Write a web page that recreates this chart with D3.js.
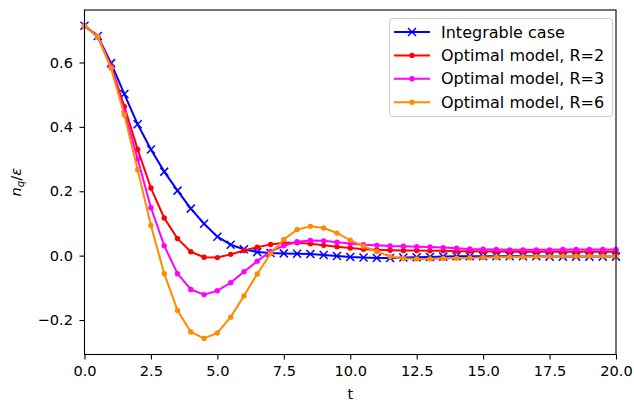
<!DOCTYPE html>
<html>
<head>
<meta charset="utf-8">
<script src="https://cdn.jsdelivr.net/npm/d3@7"></script>
<style>
  body { margin: 0; background: #fff; }
  text { font-family: "DejaVu Sans", sans-serif; }
</style>
</head>
<body>
<svg id="chart" width="634" height="401"></svg>
<script>
// time grid, t = 0 .. 20 step 0.5
var tValues = [0, 0.5, 1, 1.5, 2, 2.5, 3, 3.5, 4, 4.5, 5, 5.5, 6, 6.5, 7, 7.5, 8, 8.5, 9, 9.5,
               10, 10.5, 11, 11.5, 12, 12.5, 13, 13.5, 14, 14.5, 15, 15.5, 16, 16.5, 17, 17.5, 18, 18.5, 19, 19.5, 20];

var integrable = [0.714, 0.682, 0.598, 0.502, 0.408, 0.330, 0.261, 0.202, 0.146, 0.099,
                  0.059, 0.034, 0.020, 0.011, 0.008, 0.007, 0.006, 0.005, 0.002, -0.001,
                  -0.004, -0.006, -0.007, -0.007, -0.006, -0.005, -0.004, -0.003, -0.002, -0.002,
                  -0.002, -0.002, -0.002, -0.002, -0.002, -0.003, -0.003, -0.003, -0.003, -0.003, -0.003];

var optR2 = [0.714, 0.680, 0.590, 0.463, 0.330, 0.210, 0.117, 0.053, 0.012, -0.005,
             -0.006, 0.004, 0.016, 0.026, 0.035, 0.040, 0.040, 0.037, 0.032, 0.028,
             0.024, 0.020, 0.018, 0.017, 0.016, 0.016, 0.015, 0.015, 0.014, 0.014,
             0.013, 0.013, 0.012, 0.012, 0.012, 0.012, 0.012, 0.012, 0.012, 0.012, 0.012];

var optR3 = [0.714, 0.680, 0.586, 0.448, 0.300, 0.149, 0.031, -0.056, -0.105, -0.121,
             -0.109, -0.084, -0.050, -0.017, 0.013, 0.031, 0.043, 0.047, 0.046, 0.042,
             0.038, 0.034, 0.032, 0.030, 0.029, 0.028, 0.027, 0.025, 0.023, 0.021,
             0.020, 0.019, 0.018, 0.018, 0.018, 0.018, 0.019, 0.019, 0.019, 0.019, 0.019];

var optR6 = [0.714, 0.680, 0.582, 0.437, 0.267, 0.094, -0.056, -0.170, -0.237, -0.257,
             -0.240, -0.191, -0.125, -0.057, 0.006, 0.050, 0.081, 0.091, 0.086, 0.070,
             0.048, 0.029, 0.013, -0.003, -0.009, -0.010, -0.010, -0.009, -0.008, -0.007,
             -0.006, -0.005, -0.004, -0.004, -0.003, -0.003, -0.002, -0.002, -0.002, -0.002, -0.002];

var xTicks = [0, 2.5, 5, 7.5, 10, 12.5, 15, 17.5, 20];
var yTicks = [-0.2, 0, 0.2, 0.4, 0.6];

var seriesList = [
  {label: "Integrable case", values: integrable, color: "#0000ff", marker: "x"},
  {label: "Optimal model, R=2", values: optR2, color: "#ff0000", marker: "dot"},
  {label: "Optimal model, R=3", values: optR3, color: "#ff00ff", marker: "dot"},
  {label: "Optimal model, R=6", values: optR6, color: "#ff8c00", marker: "dot"}
];

var svg = d3.select("#chart");
var margin = {left: 84.5, right: 18, top: 10, bottom: 46.5};
var W = 634, H = 401;
var fs = 14.6;      // ticks + axis labels
var legendFs = 16;  // legend text

var x = d3.scaleLinear().domain([0, 20]).range([margin.left, W - margin.right]);
var y = d3.scaleLinear().domain([-0.307, 0.763]).range([H - margin.bottom, margin.top]);

var fmt = d3.format(".1f");

// axes
var xAxis = svg.append("g")
  .attr("transform", "translate(0," + (H - margin.bottom) + ")")
  .call(d3.axisBottom(x).tickValues(xTicks).tickFormat(fmt).tickSizeOuter(0).tickSize(5).tickPadding(6.5));
var yAxis = svg.append("g")
  .attr("transform", "translate(" + margin.left + ",0)")
  .call(d3.axisLeft(y).tickValues(yTicks).tickFormat(fmt).tickSizeOuter(0).tickSize(5).tickPadding(6.5));

[xAxis, yAxis].forEach(function(a) {
  a.select(".domain").remove();
  a.selectAll("line").attr("stroke", "#000").attr("stroke-width", 1.1);
  a.selectAll("text").attr("font-size", fs).attr("fill", "#000")
    .style("font-family", "'DejaVu Sans', sans-serif");
});

// lines + markers
var line = d3.line()
  .x(function(d, i) { return x(tValues[i]); })
  .y(function(d) { return y(d); });

var plot = svg.append("g");
seriesList.forEach(function(s) {
  var g = plot.append("g");
  g.append("path")
    .attr("d", line(s.values))
    .attr("fill", "none")
    .attr("stroke", s.color)
    .attr("stroke-width", 2)
    .attr("stroke-linejoin", "round");
  if (s.marker === "x") {
    var k = 4;
    g.selectAll("path.mk").data(s.values).enter().append("path")
      .attr("class", "mk")
      .attr("d", function(d, i) {
        var cx = x(tValues[i]), cy = y(d);
        return "M" + (cx - k) + "," + (cy - k) + "L" + (cx + k) + "," + (cy + k) +
               "M" + (cx - k) + "," + (cy + k) + "L" + (cx + k) + "," + (cy - k);
      })
      .attr("stroke", s.color)
      .attr("stroke-width", 1.5);
  } else {
    g.selectAll("circle").data(s.values).enter().append("circle")
      .attr("cx", function(d, i) { return x(tValues[i]); })
      .attr("cy", function(d) { return y(d); })
      .attr("r", 2.7)
      .attr("fill", s.color);
  }
});

// frame
svg.append("rect")
  .attr("x", margin.left).attr("y", margin.top)
  .attr("width", W - margin.left - margin.right)
  .attr("height", H - margin.top - margin.bottom)
  .attr("fill", "none").attr("stroke", "#000").attr("stroke-width", 1.1);

// axis labels
svg.append("text")
  .attr("x", (x.range()[0] + x.range()[1]) / 2)
  .attr("y", 399)
  .attr("text-anchor", "middle")
  .attr("font-size", fs)
  .text("t");

var yl = svg.append("text")
  .attr("transform", "translate(21," + ((y.range()[0] + y.range()[1]) / 2) + ") rotate(-90)")
  .attr("text-anchor", "middle")
  .attr("font-size", fs);
yl.append("tspan").attr("font-style", "italic").text("n");
yl.append("tspan").attr("font-style", "italic").attr("font-size", fs * 0.7).attr("dy", 3).text("q");
yl.append("tspan").attr("dy", -3).text("/");
yl.append("tspan").attr("font-style", "italic").text("ε");

// legend
var lg = svg.append("g");
lg.append("rect")
  .attr("x", 389.5).attr("y", 18.5)
  .attr("width", 223).attr("height", 98)
  .attr("rx", 3)
  .attr("fill", "#fff").attr("fill-opacity", 0.8)
  .attr("stroke", "#cccccc").attr("stroke-width", 1);

seriesList.forEach(function(s, i) {
  var ry = 32 + i * 23.4;
  lg.append("line")
    .attr("x1", 394).attr("x2", 430).attr("y1", ry).attr("y2", ry)
    .attr("stroke", s.color).attr("stroke-width", 2);
  if (s.marker === "x") {
    var k = 4;
    lg.append("path")
      .attr("d", "M" + (412 - k) + "," + (ry - k) + "L" + (412 + k) + "," + (ry + k) +
                 "M" + (412 - k) + "," + (ry + k) + "L" + (412 + k) + "," + (ry - k))
      .attr("stroke", s.color).attr("stroke-width", 1.5);
  } else {
    lg.append("circle").attr("cx", 412).attr("cy", ry).attr("r", 2.7).attr("fill", s.color);
  }
  lg.append("text")
    .attr("x", 441).attr("y", ry)
    .attr("dy", "0.35em")
    .attr("font-size", legendFs)
    .text(s.label);
});
</script>
</body>
</html>
